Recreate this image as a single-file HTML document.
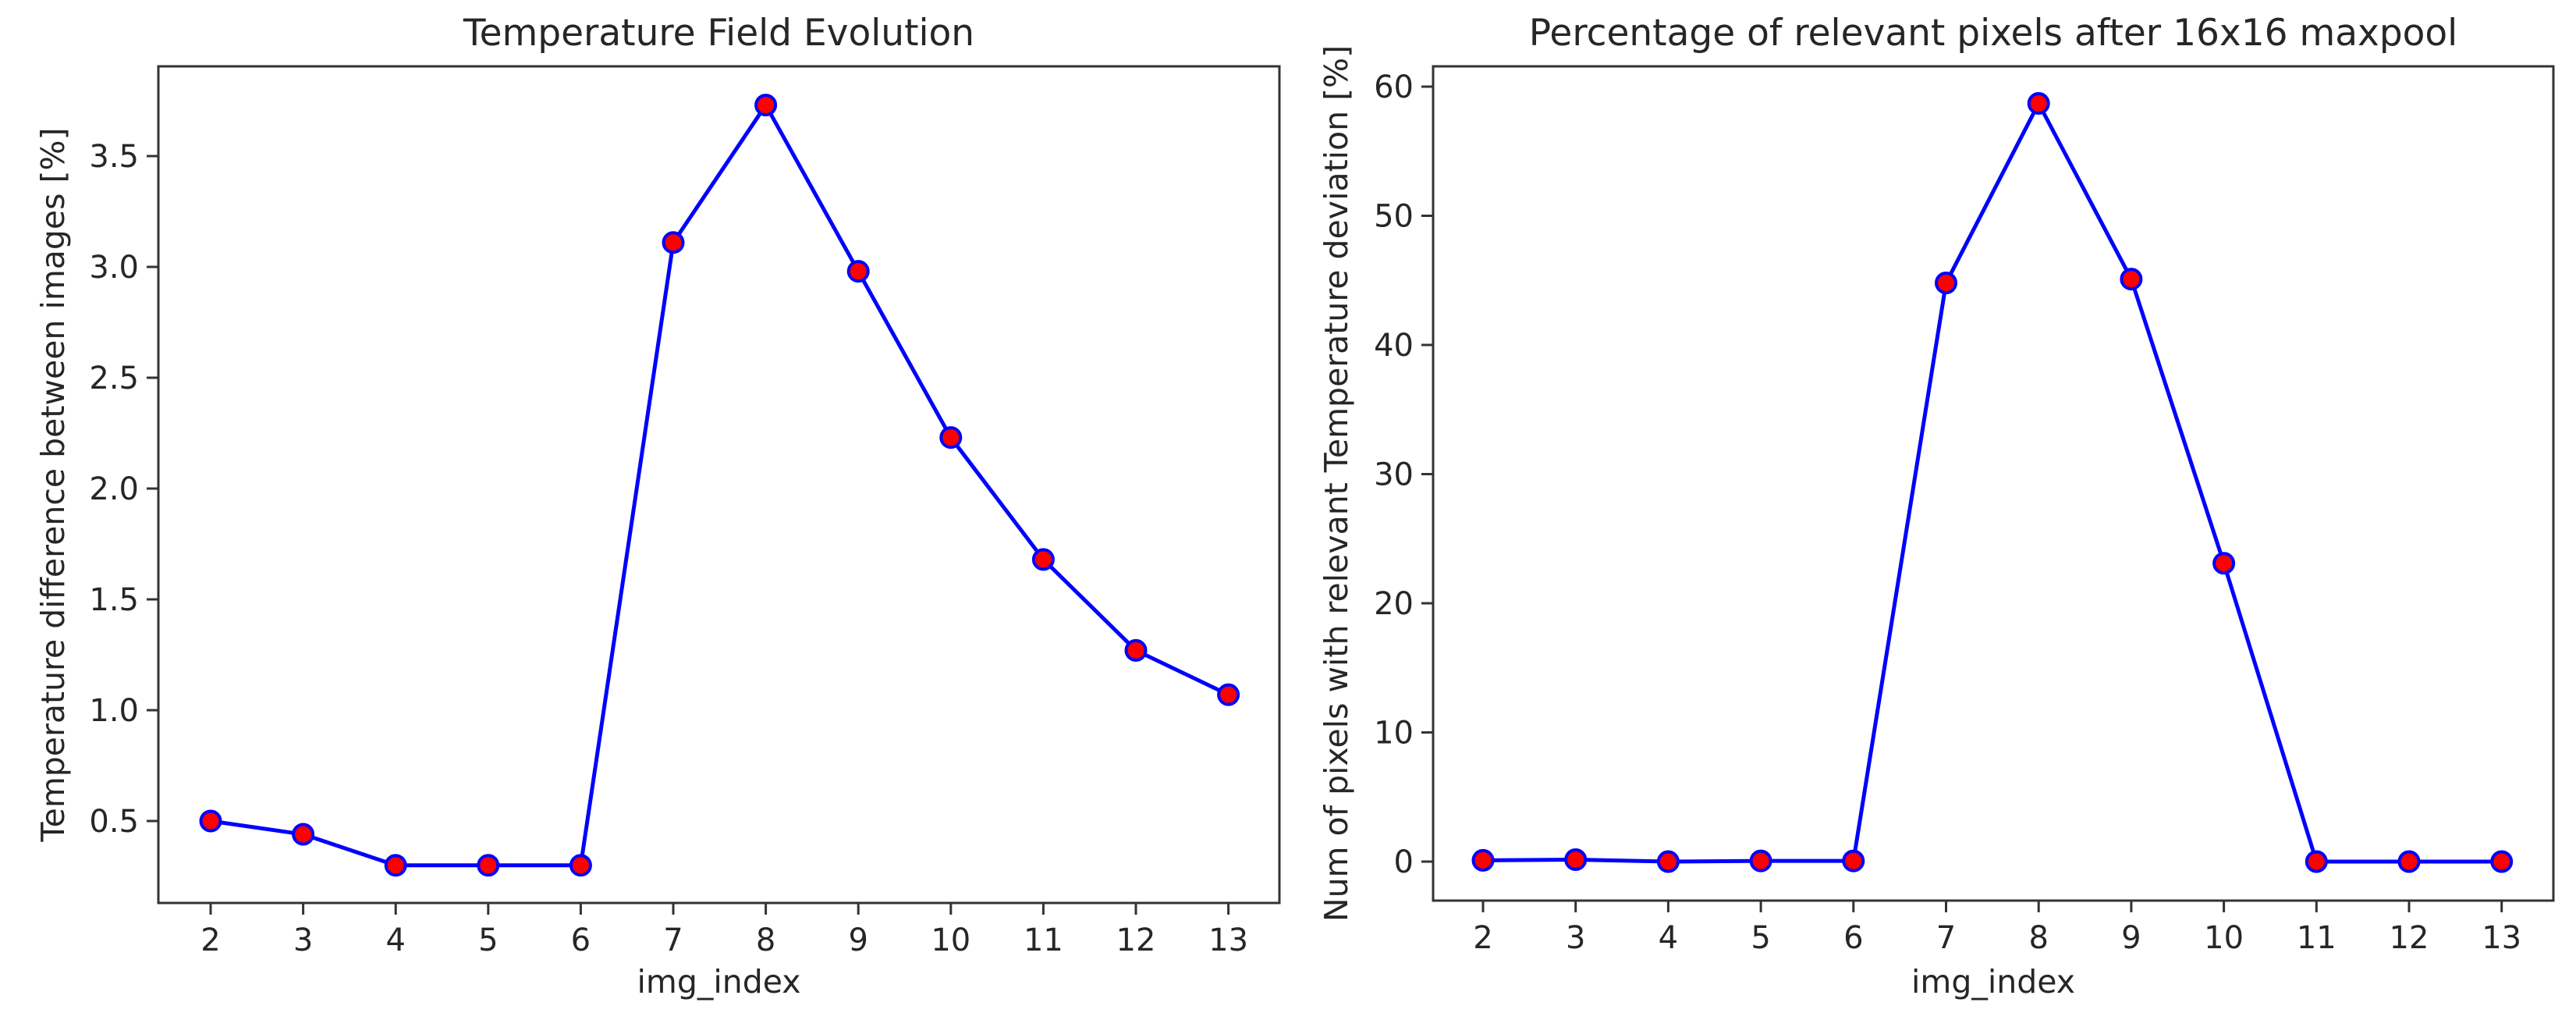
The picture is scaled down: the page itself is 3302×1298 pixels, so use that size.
<!DOCTYPE html>
<html><head><meta charset="utf-8"><style>
html,body{margin:0;padding:0;background:#fff;}
svg{display:block;}
text{font-family:"DejaVu Sans","Liberation Sans",sans-serif;fill:#262626;}
</style></head><body>
<svg id="fig" width="3302" height="1298" viewBox="0 0 3302 1298" xmlns="http://www.w3.org/2000/svg">
<rect width="3302" height="1298" fill="#fff"/>
<g id="left"></g>
<g id="right"></g>
</svg>
<script>
const categories = [2,3,4,5,6,7,8,9,10,11,12,13];
const tempValues = [0.50,0.44,0.30,0.30,0.30,3.11,3.73,2.98,2.23,1.68,1.27,1.07];
const pixelValues = [0.1,0.15,0.0,0.05,0.05,44.8,58.7,45.1,23.1,0.0,0.0,0.0];
const tempTicks = [0.5,1.0,1.5,2.0,2.5,3.0,3.5];
const tempTickLabels = ["0.5","1.0","1.5","2.0","2.5","3.0","3.5"];
const pixelTicks = [0,10,20,30,40,50,60];
const pixelTickLabels = ["0","10","20","30","40","50","60"];

const NS="http://www.w3.org/2000/svg";
function mk(tag, attrs, parent){const e=document.createElementNS(NS,tag);for(const k in attrs)e.setAttribute(k,attrs[k]);parent.appendChild(e);return e;}

function drawChart(g, cfg){
  const {left,right,top,bottom,x0,xStep,yRef,yRefPx,yPerUnit,values,ticks,tickLabels,title,ylabel,ylabelX} = cfg;
  const xs = c => x0 + (c-2)*xStep;
  const ys = v => yRefPx - (v-yRef)*yPerUnit;
  const t = mk('text',{x:(left+right)/2,y:58,'font-size':47,'text-anchor':'middle'},g);
  t.textContent=title;
  
  
  categories.forEach(c=>{
    const x=xs(c);
    const tk=mk('line',{x1:x,x2:x,y1:bottom,y2:bottom+15,stroke:'#333','stroke-width':3},g);
    
    
    const lb=mk('text',{x:x,y:bottom+61,'font-size':40,'text-anchor':'middle'},g);
    lb.textContent=String(c);
    
    
  });
  ticks.forEach((v,i)=>{
    const y=ys(v);
    const tk=mk('line',{x1:left-15,x2:left,y1:y,y2:y,stroke:'#333','stroke-width':3},g);
    
    
    const lb=mk('text',{x:left-25,y:y+14,'font-size':40,'text-anchor':'end'},g);
    lb.textContent=tickLabels[i];
    
    
  });
  const xl=mk('text',{x:(left+right)/2,y:1272,'font-size':41,'text-anchor':'middle'},g);
  xl.textContent='img_index';
  
  
  const yl=mk('text',{x:0,y:0,'font-size':41,'text-anchor':'middle',transform:`translate(${ylabelX},${(top+bottom)/2}) rotate(-90)`},g);
  yl.textContent=ylabel;
  
  
  const pts=values.map((v,i)=>xs(categories[i])+','+ys(v)).join(' ');
  const pl=mk('polyline',{points:pts,fill:'none',stroke:'#0000ff','stroke-width':5,'stroke-linejoin':'round'},g);
  
  
  values.forEach((v,i)=>{
    const c=mk('circle',{cx:xs(categories[i]),cy:ys(v),r:12.5,fill:'#ff0000',stroke:'#0000ff','stroke-width':4},g);
    
    
  });
  const fr=mk('rect',{x:left,y:top,width:right-left,height:bottom-top,fill:'none',stroke:'#333','stroke-width':3},g);
  
  
}

drawChart(document.getElementById('left'),{left:203,right:1640,top:85,bottom:1157,x0:270,xStep:118.6,yRef:0.5,yRefPx:1052,yPerUnit:284,
  values:tempValues,ticks:tempTicks,tickLabels:tempTickLabels,title:'Temperature Field Evolution',ylabel:'Temperature difference between images [%]',ylabelX:82});
drawChart(document.getElementById('right'),{left:1837,right:3273,top:85,bottom:1154,x0:1901,xStep:118.7,yRef:0,yRefPx:1104,yPerUnit:16.55,
  values:pixelValues,ticks:pixelTicks,tickLabels:pixelTickLabels,title:'Percentage of relevant pixels after 16x16 maxpool',ylabel:'Num of pixels with relevant Temperature deviation [%]',ylabelX:1727});
</script>
</body></html>
